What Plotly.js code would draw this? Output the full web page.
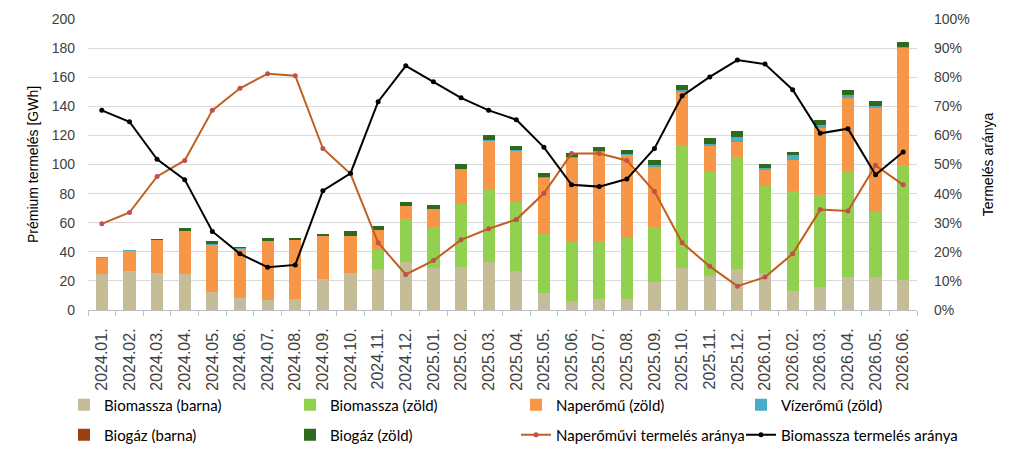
<!DOCTYPE html>
<html>
<head>
<meta charset="utf-8">
<script src="https://cdn.plot.ly/plotly-3.0.1.min.js"></script>
<style>html,body{margin:0;padding:0;background:#fff;}#chart{width:1024px;height:457px;}</style>
</head>
<body>
<div id="chart"></div>
<script>
var months = ["2024.01.","2024.02.","2024.03.","2024.04.","2024.05.","2024.06.","2024.07.","2024.08.","2024.09.","2024.10.","2024.11.","2024.12.",
"2025.01.","2025.02.","2025.03.","2025.04.","2025.05.","2025.06.","2025.07.","2025.08.","2025.09.","2025.10.","2025.11.","2025.12.",
"2026.01.","2026.02.","2026.03.","2026.04.","2026.05.","2026.06."];

var biomasszaBarna = [25, 26.5, 25.3, 24.6, 12.4, 8.3, 7.1, 7.6, 21.2, 25.3, 28.3, 32.9, 28.8, 29.7, 32.9, 26.7, 11.7, 6.2, 7.4, 7.4, 19.1, 29, 23.5, 27.9, 25.3, 12.9, 15.9, 23, 23, 20.3];
var biomasszaZold = [0, 0, 0, 0, 0, 0.3, 0, 0, 0, 0, 12.7, 29.4, 28.4, 43.2, 49.4, 47.4, 40.7, 40.3, 39.8, 42, 38.1, 84.6, 71.3, 77.4, 59.8, 69.1, 63.4, 71.8, 44.2, 79.7];
var naperomu = [10.5, 14, 22.6, 29.7, 32.4, 33.6, 40.1, 40.3, 29.4, 25.3, 13.8, 9, 12, 23.9, 33.6, 35.1, 38.2, 58.1, 61.4, 56.8, 41.4, 36.4, 17.6, 10.4, 11.2, 21.2, 45.8, 51.2, 71.9, 79.8];
var vizeromu = [0.6, 0.5, 0.3, 0.3, 0.3, 0.3, 0.3, 0.3, 0.2, 0.3, 0.3, 0.5, 0.3, 0.4, 0.7, 0.7, 0.5, 0.5, 0.5, 1.2, 1.2, 1, 1.9, 2.9, 1.6, 3, 1.8, 1.6, 0.9, 0.7];
var biogazBarna = [0, 0, 0, 0, 0, 0, 0, 0, 0, 0, 0, 0, 0, 0, 0, 0, 0, 0, 0, 0, 0, 0, 0, 0, 0, 0, 0, 0, 0, 0];
var biogazZold = [0, 0, 0.8, 1.6, 2, 1.1, 2.2, 1.5, 1.6, 3.4, 2.7, 2.3, 3, 3.2, 3.4, 3, 3, 3, 2.6, 2.5, 3, 3.3, 3.9, 4.2, 2.5, 2.5, 3.4, 3.9, 3.9, 3.6];

var naperArany = [29.6, 33.5, 45.9, 51.4, 68.6, 76.2, 81.2, 80.5, 55.5, 46.8, 23.1, 12.2, 17, 24.1, 27.9, 31.1, 40.1, 53.8, 53.8, 51.4, 40.7, 23.1, 15, 8.2, 11.3, 19.3, 34.5, 34.0, 49.7, 43];
var biomasszaArany = [68.6, 64.7, 51.8, 44.8, 27, 19.3, 14.7, 15.5, 41, 47, 71.6, 83.9, 78.4, 72.9, 68.6, 65.4, 55.9, 43, 42.4, 45, 55.5, 73.6, 80.1, 85.9, 84.5, 75.7, 60.7, 62.3, 46.5, 54.3];

function pct(a){ return a.map(function(v){ return v/100; }); }

function barTrace(name, vals, color, leg){
  return {type:'bar', name:name, x:months, y:vals, marker:{color:color, line:{width:0}}, legend:leg, hoverinfo:'y+name'};
}

var traces = [
  barTrace('Biomassza (barna)', biomasszaBarna, '#C4BD97', 'legend'),
  barTrace('Biomassza (zöld)', biomasszaZold, '#92D050', 'legend2'),
  barTrace('Naperőmű (zöld)', naperomu, '#F79646', 'legend3'),
  barTrace('Vízerőmű (zöld)', vizeromu, '#4BACC6', 'legend4'),
  barTrace('Biogáz (barna)', biogazBarna, '#9C3F0F', 'legend5'),
  barTrace('Biogáz (zöld)', biogazZold, '#2E6A1E', 'legend6'),
  {type:'scatter', mode:'lines+markers', name:'Naperőművi termelés aránya', x:months, y:pct(naperArany), yaxis:'y2', legend:'legend7',
   line:{color:'#C0601E', width:2}, marker:{color:'#C0504D', size:5}},
  {type:'scatter', mode:'lines+markers', name:'Biomassza termelés aránya', x:months, y:pct(biomasszaArany), yaxis:'y2', legend:'legend8',
   line:{color:'#000000', width:2}, marker:{color:'#000000', size:5}}
];

var axisFont = {family:'"Liberation Sans", Arial, sans-serif', size:14, color:'#404040'};
var legFont = {family:'Lato, "Noto Sans", sans-serif', size:15, color:'#000'};

function legendDef(xpx, ypx){
  return {orientation:'h', xref:'container', yref:'container', x:xpx/1024, xanchor:'left', y:1 - ypx/457, yanchor:'middle',
          traceorder:'normal', itemwidth:30, font:legFont, bgcolor:'rgba(0,0,0,0)', borderwidth:0};
}

var layout = {
  width:1024, height:457,
  margin:{l:88, r:107, t:19, b:147, pad:0, autoexpand:false},
  paper_bgcolor:'#fff', plot_bgcolor:'#fff',
  barmode:'stack', bargap:0.56,
  showlegend:true,
  font:axisFont,
  xaxis:{type:'category', range:[-0.5, 29.5], tickangle:-90, automargin:false,
         tickfont:{family:'"Liberation Sans", Arial, sans-serif', size:16, color:'#404040'},
         showline:true, linecolor:'#BFBFBF', linewidth:1, ticks:'outside', tickson:'boundaries', ticklen:5, tickcolor:'#BFBFBF',
         ticklabelstandoff:11, showgrid:false, zeroline:false, fixedrange:true},
  yaxis:{range:[0,200], dtick:20, tickfont:axisFont, showgrid:true, gridcolor:'#D9D9D9', gridwidth:1, automargin:false,
         zeroline:false, showline:false, ticks:'', ticklabelstandoff:12,
         title:{text:'Prémium termelés [GWh]', font:{family:'"Liberation Sans", Arial, sans-serif', size:14, color:'#000'}, standoff:9}},
  yaxis2:{range:[0,1], dtick:0.1, tickformat:'.0%', overlaying:'y', side:'right', showgrid:false, zeroline:false, automargin:false,
          showline:false, ticks:'', ticklabelstandoff:16, tickfont:axisFont,
          title:{text:'Termelés aránya', font:{family:'"Liberation Sans", Arial, sans-serif', size:14, color:'#000'}, standoff:14}},
  legend:legendDef(64, 405),
  legend2:legendDef(290, 405),
  legend3:legendDef(516, 405),
  legend4:legendDef(741, 405),
  legend5:legendDef(64, 435),
  legend6:legendDef(290, 435),
  legend7:legendDef(516, 435),
  legend8:legendDef(741, 435)
};

Plotly.newPlot('chart', traces, layout, {displayModeBar:false, staticPlot:true});
</script>
</body>
</html>
